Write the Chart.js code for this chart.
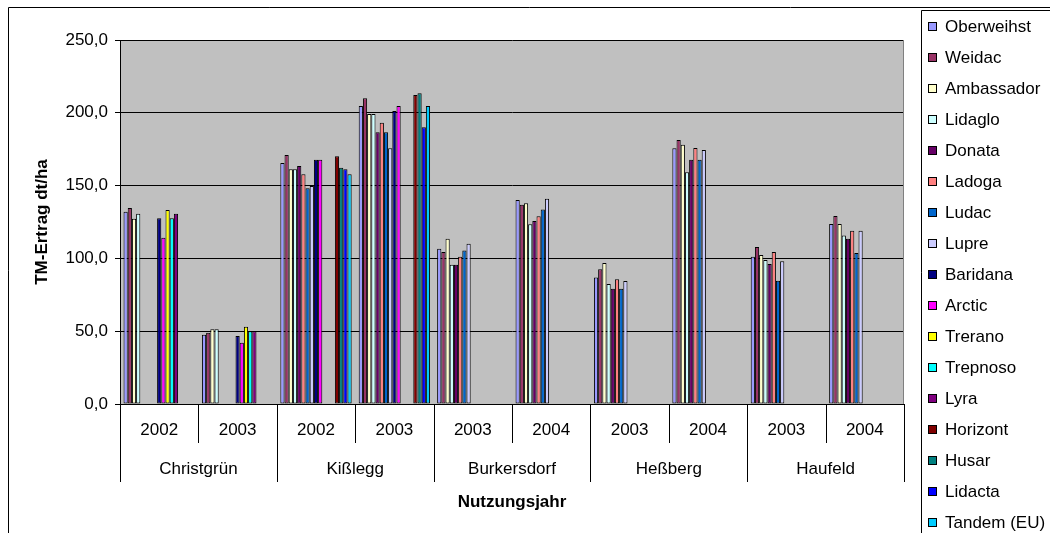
<!DOCTYPE html>
<html lang="de">
<head>
<meta charset="utf-8">
<title>TM-Ertrag nach Sorte und Standort</title>
<script src="https://cdn.jsdelivr.net/npm/chart.js@4/dist/chart.umd.min.js"></script>
<style>
  html, body { margin: 0; padding: 0; background: #fff; }
  #wrap { width: 1050px; height: 533px; }
</style>
</head>
<body>
<div id="wrap"><canvas id="c" width="1050" height="533"></canvas></div>
<script>
// Nutzungsjahre (untere Achse, erste Ebene) und Standorte (zweite Ebene)
const years = ['2002', '2003', '2002', '2003', '2003', '2004', '2003', '2004', '2003', '2004'];
const locations = ['Christgrün', 'Kißlegg', 'Burkersdorf', 'Heßberg', 'Haufeld'];
const yearsPerLocation = [2, 2, 2, 2, 2];

// TM-Ertrag in dt/ha je Sorte
const oberweihst = [132.1, 47.6, 165.5, 204.7, 106.7, 140.1, 86.8, 175.6, 101.2, 123.6];
const weidac     = [134.6, 49.0, 171.0, 210.0, 104.4, 136.9, 92.5, 181.3, 107.8, 129.1];
const ambassador = [127.3, 51.3, 161.2, 199.2, 113.5, 137.8, 96.8, 178.1, 102.3, 123.6];
const lidaglo    = [130.7, 51.3, 161.2, 199.2, 95.7, 123.4, 82.4, 159.1, 98.9, 115.8];
const donata     = [null, null, 163.5, 186.6, 95.7, 125.7, 79.2, 167.8, 96.2, 113.5];
const ladoga     = [null, null, 157.8, 193.2, 101.2, 128.9, 85.6, 175.8, 104.4, 119.0];
const ludac      = [null, null, 148.1, 186.6, 105.5, 133.5, 79.2, 167.8, 84.7, 103.7];
const lupre      = [null, null, 149.7, 175.6, 110.1, 141.0, 84.5, 174.5, 98.0, 119.0];
const baridana   = [127.5, 46.7, 167.8, 201.2, null, null, null, null, null, null];
const arctic     = [114.2, 42.1, 167.8, 204.7, null, null, null, null, null, null];
const trerano    = [133.2, 53.1, null, null, null, null, null, null, null, null];
const trepnoso   = [127.5, 49.9, null, null, null, null, null, null, null, null];
const lyra       = [130.7, 49.9, null, null, null, null, null, null, null, null];
const horizont   = [null, null, 170.1, 212.2, null, null, null, null, null, null];
const husar      = [null, null, 162.3, 213.4, null, null, null, null, null, null];
const lidacta    = [null, null, 161.2, 190.0, null, null, null, null, null, null];
const tandem     = [null, null, 157.8, 204.7, null, null, null, null, null, null];

const yTickValues = [0, 50, 100, 150, 200, 250];

const series = [
  ['Oberweihst', oberweihst, '#9999FF'],
  ['Weidac', weidac, '#993366'],
  ['Ambassador', ambassador, '#FFFFCC'],
  ['Lidaglo', lidaglo, '#CCFFFF'],
  ['Donata', donata, '#660066'],
  ['Ladoga', ladoga, '#FF8080'],
  ['Ludac', ludac, '#0066CC'],
  ['Lupre', lupre, '#CCCCFF'],
  ['Baridana', baridana, '#000080'],
  ['Arctic', arctic, '#FF00FF'],
  ['Trerano', trerano, '#FFFF00'],
  ['Trepnoso', trepnoso, '#00FFFF'],
  ['Lyra', lyra, '#800080'],
  ['Horizont', horizont, '#800000'],
  ['Husar', husar, '#008080'],
  ['Lidacta', lidacta, '#0000FF'],
  ['Tandem (EU)', tandem, '#00CCFF']
];

const FONT = "'Liberation Sans', Arial, sans-serif";
const FS = 17;

// Rahmen, Hintergrund der Zeichenfläche, zweistufige Achse und Legende
const decor = {
  id: 'decor',
  beforeDraw(chart) {
    const { ctx, chartArea: a, width, height } = chart;
    ctx.save();
    ctx.fillStyle = '#fff';
    ctx.fillRect(0, 0, width, height);
    ctx.strokeStyle = '#000';
    ctx.lineWidth = 1;
    ctx.beginPath();
    ctx.moveTo(8.5, height + 1);
    ctx.lineTo(8.5, 7.5);
    ctx.lineTo(width + 1, 7.5);
    ctx.stroke();
    ctx.fillStyle = '#C0C0C0';
    ctx.fillRect(a.left, a.top, a.right - a.left, a.bottom - a.top);
    ctx.restore();
  },
  afterDraw(chart) {
    const { ctx, chartArea: a, height, width } = chart;
    const x = chart.scales.x;
    const n = years.length;
    const step = (a.right - a.left) / n;
    ctx.save();
    // rechter Rand der Zeichenfläche
    ctx.strokeStyle = '#808080';
    ctx.beginPath();
    ctx.moveTo(Math.round(a.right) - 0.5, a.top);
    ctx.lineTo(Math.round(a.right) - 0.5, a.bottom);
    ctx.stroke();
    // Trennlinien zwischen Jahren und Standorten
    ctx.strokeStyle = '#000';
    const bounds = [0];
    yearsPerLocation.forEach(k => bounds.push(bounds[bounds.length - 1] + k));
    for (let i = 0; i <= n; i++) {
      const px = Math.round(x.getPixelForValue(i) - step / 2) + 0.5;
      const long = bounds.includes(i);
      ctx.beginPath();
      ctx.moveTo(px, a.bottom);
      ctx.lineTo(px, a.bottom + (long ? 78 : 39));
      ctx.stroke();
    }
    // Standortnamen
    ctx.fillStyle = '#000';
    ctx.font = FS + 'px ' + FONT;
    ctx.textAlign = 'center';
    ctx.textBaseline = 'middle';
    locations.forEach((loc, j) => {
      const c = (x.getPixelForValue(bounds[j]) + x.getPixelForValue(bounds[j + 1] - 1)) / 2;
      ctx.fillText(loc, c, a.bottom + 65);
    });
    // Legende
    const lx = 921.5, ly = 10.5;
    ctx.beginPath();
    ctx.moveTo(lx, height + 1);
    ctx.lineTo(lx, ly);
    ctx.lineTo(width + 1, ly);
    ctx.stroke();
    ctx.textAlign = 'left';
    chart.data.datasets.forEach((ds, i) => {
      const cy = 27.3 + i * 31;
      ctx.fillStyle = ds.backgroundColor;
      ctx.fillRect(929, Math.round(cy - 4), 7, 7);
      ctx.strokeStyle = '#000';
      ctx.strokeRect(928.5, Math.round(cy - 4) - 0.5, 8, 8);
      ctx.fillStyle = '#000';
      ctx.fillText(ds.label, 945, cy);
    });
    ctx.restore();
  }
};

Chart.defaults.font.family = FONT;
Chart.defaults.font.size = FS;
Chart.defaults.color = '#000';

new Chart(document.getElementById('c'), {
  type: 'bar',
  data: {
    labels: years,
    datasets: series.map(([label, data, color]) => ({
      label,
      data,
      backgroundColor: color,
      borderColor: '#000',
      borderWidth: 1,
      borderSkipped: false,
      categoryPercentage: 0.91,
      barPercentage: 1
    }))
  },
  options: {
    responsive: false,
    devicePixelRatio: 1,
    animation: false,
    layout: { padding: { top: 40, right: 146, left: 0, bottom: 0 } },
    plugins: {
      legend: { display: false },
      tooltip: { enabled: false }
    },
    scales: {
      x: {
        grid: { display: false, drawTicks: false },
        border: { display: true, color: '#000', width: 1 },
        ticks: { padding: 15.8, maxRotation: 0, autoSkip: false, color: '#000' },
        title: {
          display: true,
          text: 'Nutzungsjahr',
          font: { weight: 'bold', size: FS },
          color: '#000',
          padding: { top: 0, bottom: 20.8 }
        },
        afterFit(scale) { scale.height = 129; }
      },
      y: {
        min: 0,
        max: 250,
        afterBuildTicks(scale) { scale.ticks = yTickValues.map(v => ({ value: v })); },
        grid: { color: '#000', lineWidth: 1, tickLength: 5, drawTicks: true },
        border: { display: true, color: '#000', width: 1 },
        ticks: {
          padding: 7,
          color: '#000',
          callback: v => v.toFixed(1).replace('.', ',')
        },
        title: {
          display: true,
          text: 'TM-Ertrag dt/ha',
          font: { weight: 'bold', size: FS },
          color: '#000',
          padding: { top: 32.5, bottom: 0 }
        },
        afterFit(scale) { scale.width = 120; }
      }
    }
  },
  plugins: [decor]
});
</script>
</body>
</html>
